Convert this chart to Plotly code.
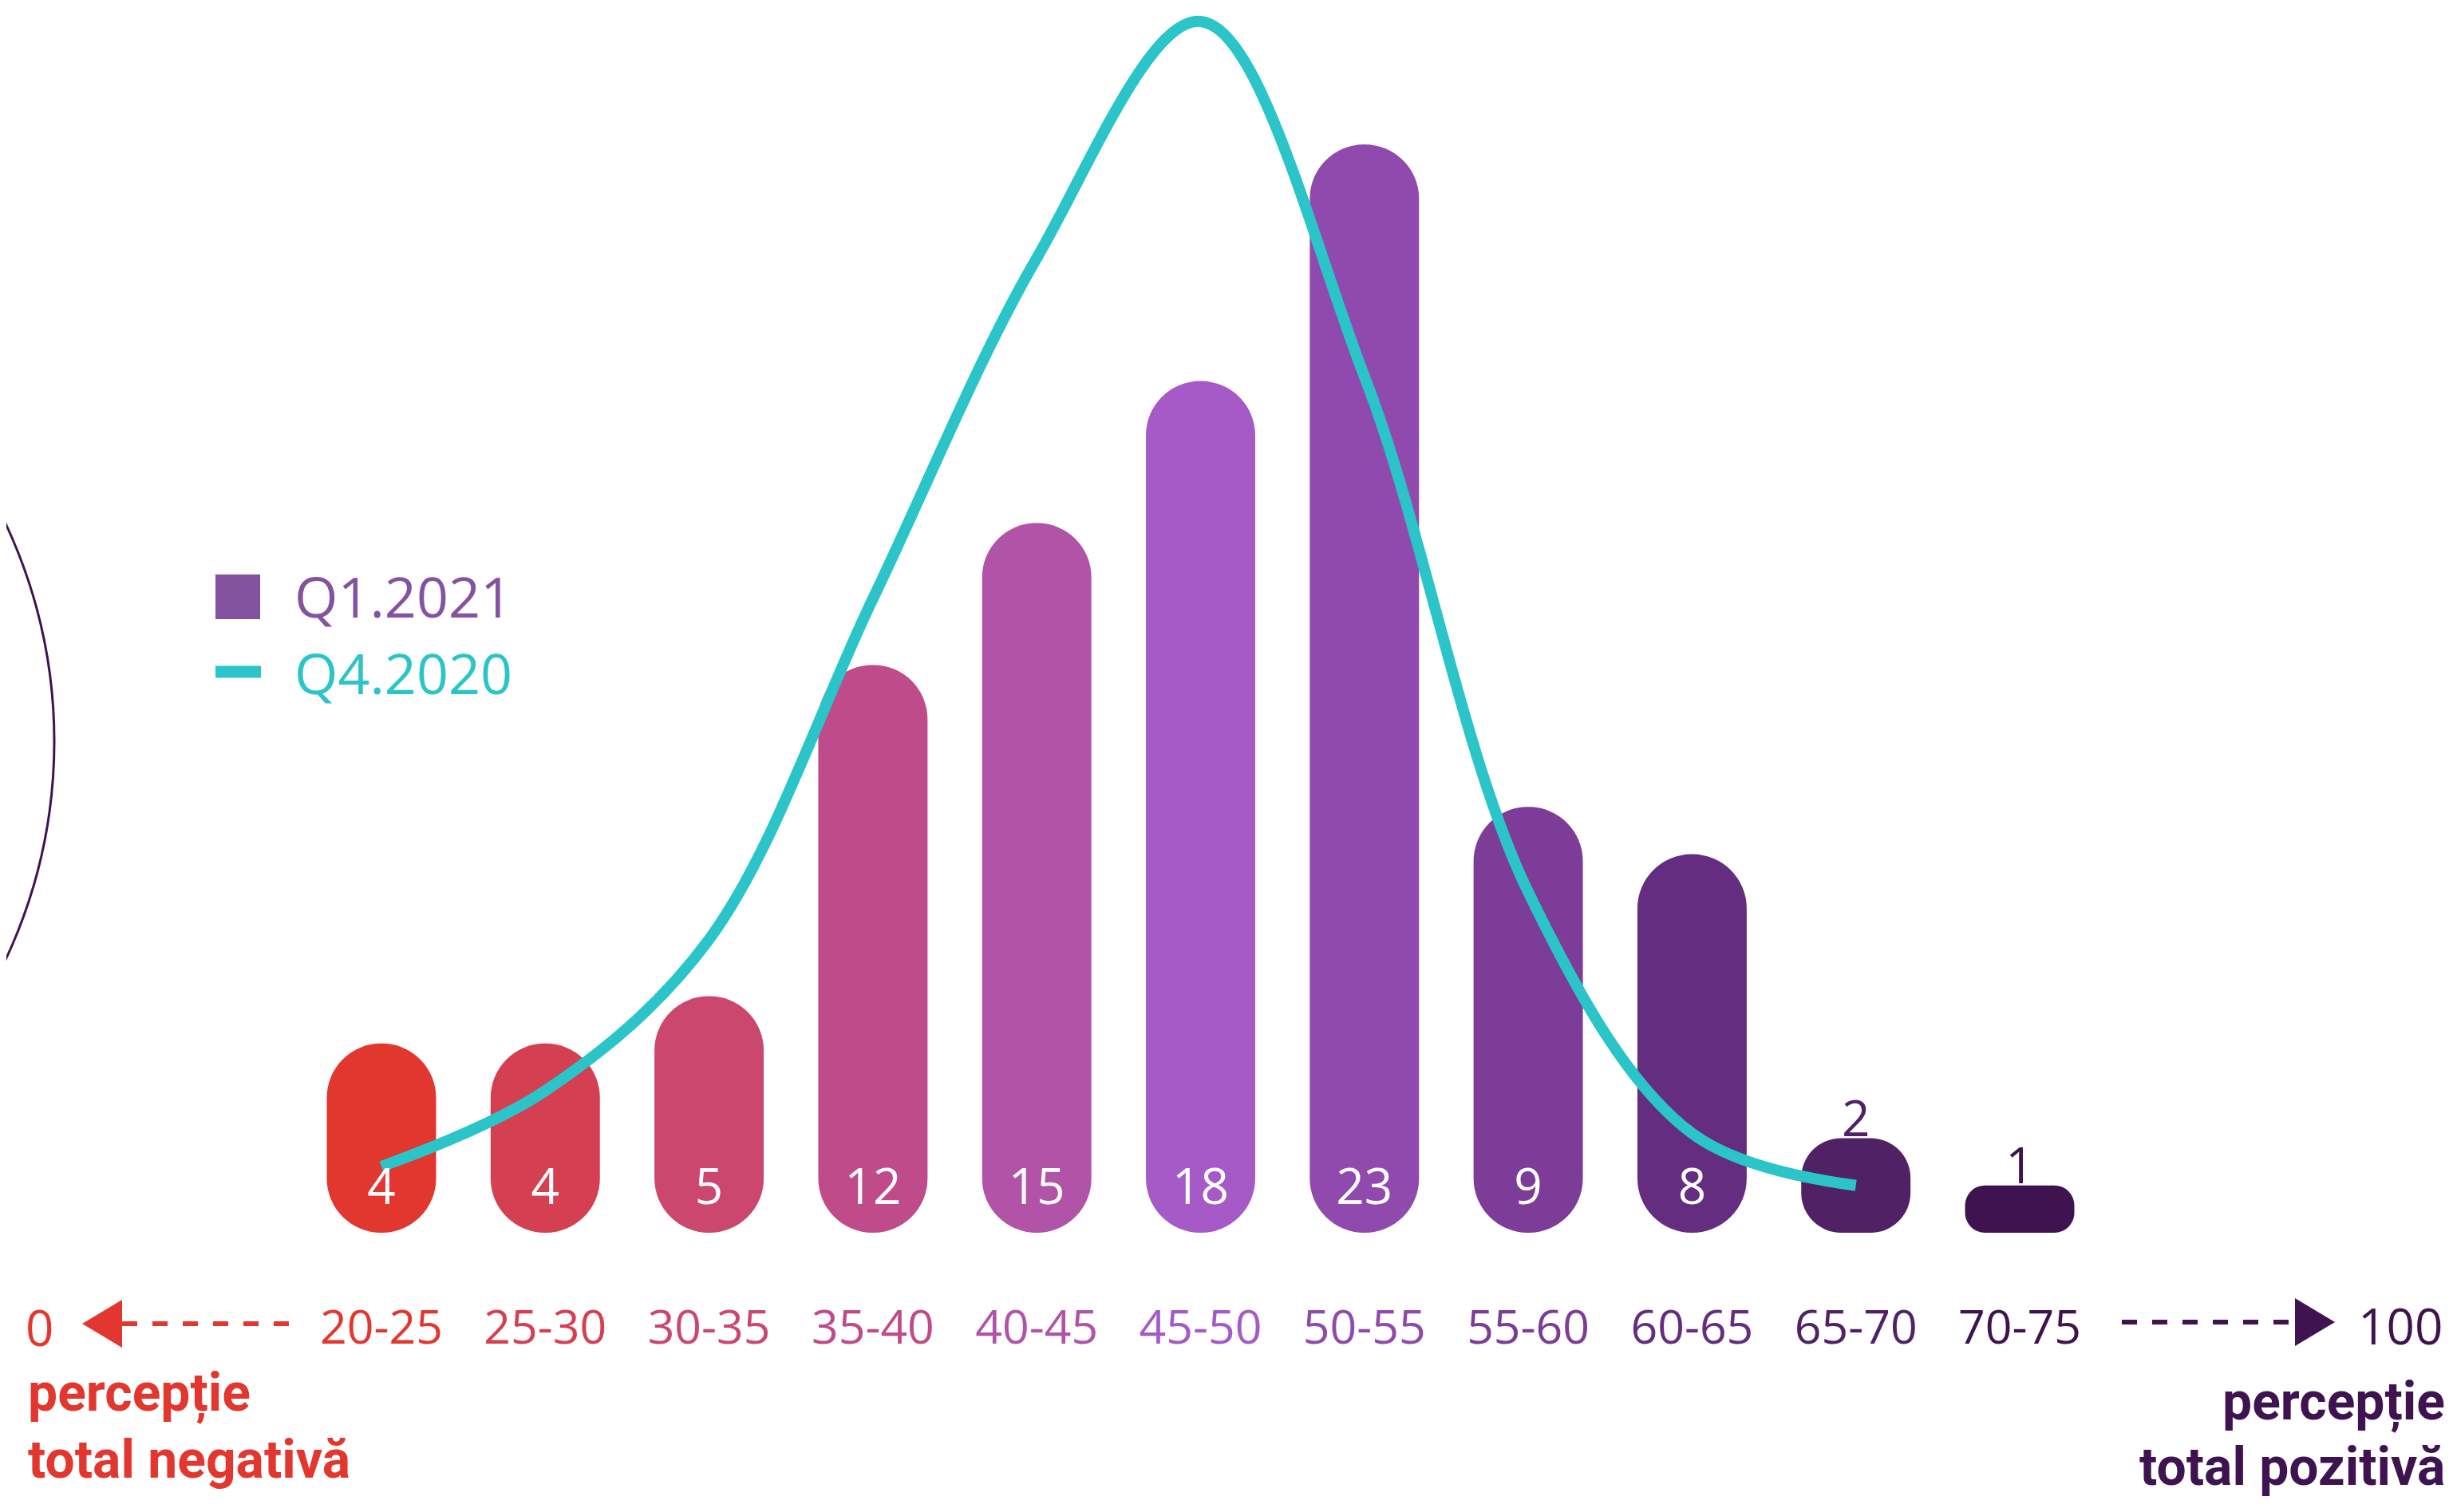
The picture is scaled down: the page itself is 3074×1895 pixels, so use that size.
import plotly.graph_objects as go

# Data
categories = ["20-25", "25-30", "30-35", "35-40", "40-45", "45-50",
              "50-55", "55-60", "60-65", "65-70", "70-75"]
q1_2021 = [4, 4, 5, 12, 15, 18, 23, 9, 8, 2, 1]
q4_2020 = [1.4, 3.0, 6.2, 13.4, 20.6, 25.6, 18.1, 7.2, 2.1, 1.0]
bar_colors = ["#E2372F", "#D53F52", "#CB476E", "#BF4B8A", "#B154A8", "#A55AC7",
              "#904AAE", "#7D3C97", "#642D7F", "#512166", "#3E1350"]
series_names = ["Q1.2021", "Q4.2020"]

RED = "#E2372F"
DARK = "#3E1350"
TEAL = "#2AC4C9"
LEG_PURPLE = "#8453A0"
FONT = "Open Sans, Noto Sans, sans-serif"
BOLD_FONT = "Roboto, Open Sans, sans-serif"

# Layout geometry (page pixels); the page body has an 8px margin
W, H = 3074, 1895
OFF = 8
FW, FH = W - 2 * OFF, H - 2 * OFF
X0_PX, X_STEP = 478, 205.3
Y0_PX, Y_STEP = 1545, 59.3
BAR_W = 0.667
x_range = [-(X0_PX - OFF) / X_STEP, (FW - (X0_PX - OFF)) / X_STEP]
y_range = [-(FH - (Y0_PX - OFF)) / Y_STEP, (Y0_PX - OFF) / Y_STEP]


def px(x):
    return (x - OFF) / FW


def py(y):
    return 1 - (y - OFF) / FH


fig = go.Figure()

# pill shaped bars
half_w_px = BAR_W * X_STEP / 2
for i, v in enumerate(q1_2021):
    r = min(half_w_px, 0.85 * v * Y_STEP / 2)
    fig.add_trace(go.Bar(
        x=[i], y=[v], base=[0], width=BAR_W,
        marker=dict(color=bar_colors[i], line=dict(width=0), cornerradius=r),
        name=series_names[0], showlegend=False, hoverinfo="skip",
    ))

# Q4.2020 curve
fig.add_trace(go.Scatter(
    x=list(range(len(q4_2020))), y=q4_2020, mode="lines",
    line=dict(color=TEAL, width=14, shape="spline", smoothing=1.0),
    name=series_names[1], showlegend=False, hoverinfo="skip",
))

# value labels: inside the bar (white) or just above small bars
lab_y = [0.865 if v >= 3 else v + 0.3 for v in q1_2021]
lab_col = ["white" if v >= 3 else bar_colors[i] for i, v in enumerate(q1_2021)]
fig.add_trace(go.Scatter(
    x=list(range(len(q1_2021))), y=lab_y, mode="text",
    text=[str(v) for v in q1_2021],
    textfont=dict(family=FONT, size=62, color=lab_col),
    showlegend=False, hoverinfo="skip",
))

# category labels
fig.add_trace(go.Scatter(
    x=list(range(len(categories))), y=[-(1669 - Y0_PX) / Y_STEP] * len(categories),
    mode="text", text=categories,
    textfont=dict(family=FONT, size=59, color=bar_colors),
    showlegend=False, hoverinfo="skip",
))

shapes = []
# left arrow
shapes.append(dict(type="line", xref="paper", yref="paper",
                   x0=px(153), x1=px(368), y0=py(1659), y1=py(1659),
                   line=dict(color=RED, width=6, dash="19px,19px")))
shapes.append(dict(type="path", xref="paper", yref="paper",
                   path=f"M {px(103)},{py(1659)} L {px(153)},{py(1629)} L {px(153)},{py(1689)} Z",
                   fillcolor=RED, line=dict(width=0)))
# right arrow
shapes.append(dict(type="line", xref="paper", yref="paper",
                   x0=px(2659), x1=px(2876), y0=py(1657), y1=py(1657),
                   line=dict(color=DARK, width=6, dash="19px,19px")))
shapes.append(dict(type="path", xref="paper", yref="paper",
                   path=f"M {px(2926)},{py(1657)} L {px(2876)},{py(1627)} L {px(2876)},{py(1687)} Z",
                   fillcolor=DARK, line=dict(width=0)))
# legend symbols
shapes.append(dict(type="rect", xref="paper", yref="paper",
                   x0=px(270), x1=px(326), y0=py(720), y1=py(776),
                   fillcolor=LEG_PURPLE, line=dict(width=0)))
shapes.append(dict(type="line", xref="paper", yref="paper",
                   x0=px(270), x1=px(327), y0=py(842), y1=py(842),
                   line=dict(color=TEAL, width=15)))
# decorative circle at the left edge
shapes.append(dict(type="circle", xref="paper", yref="paper",
                   x0=px(-1216), x1=px(68), y0=py(287), y1=py(1572),
                   line=dict(color=DARK, width=3), layer="below"))

BOLD = dict(family=BOLD_FONT, size=66, weight=700)
annotations = [
    dict(x=px(367), y=py(747), text=series_names[0], font=dict(family=FONT, size=70, color=LEG_PURPLE)),
    dict(x=px(367), y=py(843), text=series_names[1], font=dict(family=FONT, size=70, color=TEAL)),
    dict(x=px(49), y=py(1663), text="0", xanchor="center", font=dict(family=FONT, size=62, color=RED)),
    dict(x=px(3008), y=py(1661), text="100", xanchor="center", font=dict(family=FONT, size=62, color=DARK)),
    dict(x=px(33), y=py(1746), text="percepție", font=dict(BOLD, color=RED)),
    dict(x=px(33), y=py(1829), text="total negativă", font=dict(BOLD, color=RED)),
    dict(x=px(3066), y=py(1757), text="percepție", xanchor="right", font=dict(BOLD, color=DARK)),
    dict(x=px(3066), y=py(1838), text="total pozitivă", xanchor="right", font=dict(BOLD, color=DARK)),
]
for a in annotations:
    a.setdefault("xanchor", "left")
    a.update(xref="paper", yref="paper", yanchor="middle", showarrow=False)

fig.update_layout(
    width=FW, height=FH,
    margin=dict(l=0, r=0, t=0, b=0),
    paper_bgcolor="white", plot_bgcolor="white",
    barmode="overlay",
    xaxis=dict(range=x_range, visible=False, fixedrange=True),
    yaxis=dict(range=y_range, visible=False, fixedrange=True),
    shapes=shapes, annotations=annotations,
    showlegend=False,
)

fig.write_html("out.html")
